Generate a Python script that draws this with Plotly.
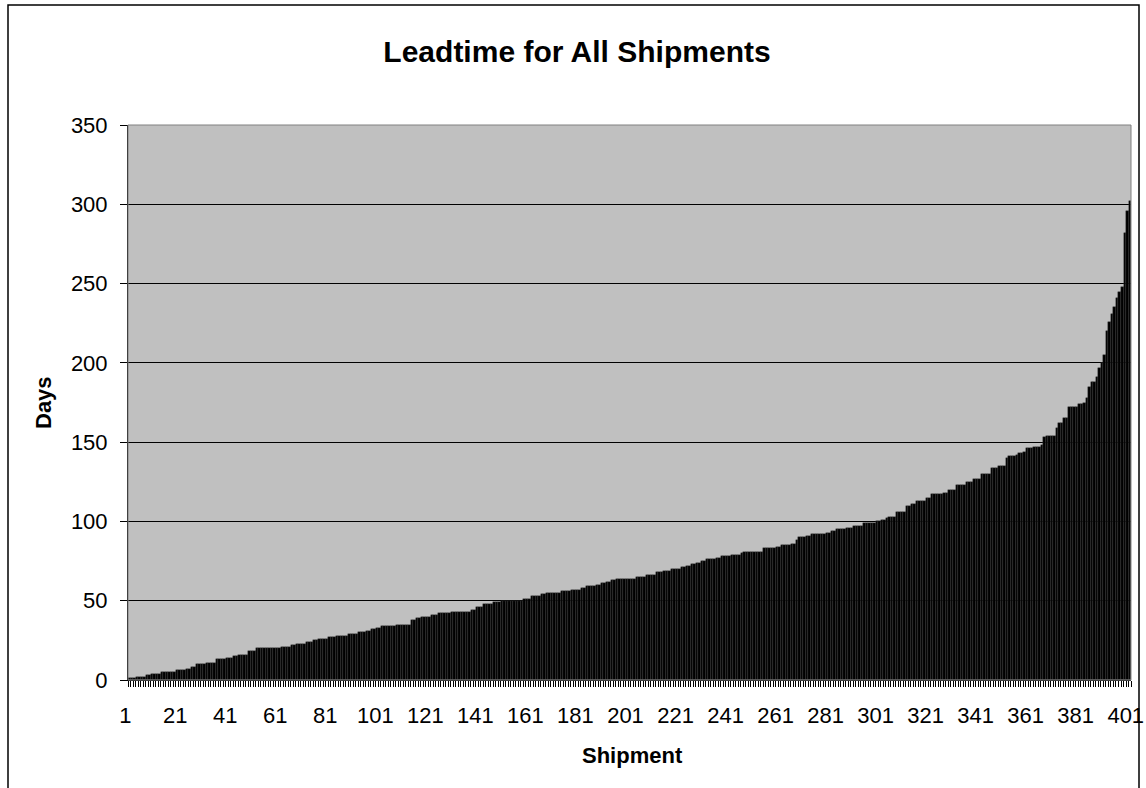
import plotly.graph_objects as go

shipments = list(range(1, 402))

leadtime_days = [
    1, 1, 1, 2, 2, 2, 2, 3, 3, 4,
    4, 4, 4, 5, 5, 5, 5, 5, 5, 6,
    6, 6, 6, 7, 7, 8, 8, 10, 10, 10,
    10, 11, 11, 11, 11, 13, 13, 13, 13, 14,
    14, 14, 15, 15, 16, 16, 16, 16, 18, 18,
    18, 20, 20, 20, 20, 20, 20, 20, 20, 20,
    20, 21, 21, 21, 21, 22, 22, 23, 23, 23,
    23, 24, 24, 24, 25, 25, 26, 26, 26, 26,
    27, 27, 27, 28, 28, 28, 28, 28, 29, 29,
    29, 29, 30, 30, 30, 31, 31, 32, 32, 33,
    33, 34, 34, 34, 34, 34, 34, 35, 35, 35,
    35, 35, 35, 38, 38, 39, 39, 40, 40, 40,
    40, 41, 41, 41, 42, 42, 42, 42, 42, 43,
    43, 43, 43, 43, 43, 43, 43, 44, 44, 46,
    46, 46, 48, 48, 48, 48, 49, 49, 49, 50,
    50, 50, 50, 50, 50, 50, 50, 50, 51, 51,
    51, 53, 53, 53, 53, 54, 54, 55, 55, 55,
    55, 55, 55, 56, 56, 56, 56, 57, 57, 57,
    57, 58, 58, 59, 59, 59, 59, 60, 60, 61,
    61, 62, 62, 63, 63, 64, 64, 64, 64, 64,
    64, 64, 64, 65, 65, 65, 65, 66, 66, 66,
    66, 68, 68, 68, 69, 69, 69, 70, 70, 70,
    70, 71, 71, 72, 72, 73, 73, 74, 74, 75,
    75, 76, 76, 76, 76, 77, 77, 78, 78, 78,
    78, 79, 79, 79, 79, 80, 81, 81, 81, 81,
    81, 81, 81, 81, 83, 83, 83, 83, 83, 84,
    84, 85, 85, 85, 85, 86, 86, 88, 90, 90,
    90, 91, 91, 92, 92, 92, 92, 92, 92, 93,
    93, 94, 94, 95, 95, 95, 95, 96, 96, 96,
    97, 97, 97, 97, 99, 99, 99, 99, 99, 100,
    100, 101, 101, 102, 103, 103, 103, 106, 106, 106,
    106, 110, 110, 111, 111, 113, 113, 113, 113, 115,
    115, 117, 117, 117, 117, 117, 118, 118, 120, 120,
    120, 123, 123, 123, 123, 125, 125, 125, 127, 127,
    127, 130, 130, 130, 130, 134, 134, 134, 135, 135,
    135, 140, 141, 141, 141, 142, 143, 143, 144, 146,
    146, 146, 147, 147, 147, 148, 153, 154, 154, 154,
    154, 159, 162, 162, 165, 165, 172, 172, 172, 172,
    174, 174, 175, 178, 185, 188, 188, 191, 197, 200,
    205, 220, 226, 231, 235, 241, 245, 248, 282, 296,
    302,
]

x_tick_values = list(range(1, 402, 20))
x_tick_labels = [str(v) for v in x_tick_values]
y_tick_values = [0, 50, 100, 150, 200, 250, 300, 350]

FONT = "Liberation Sans, Arial, sans-serif"

fig = go.Figure(
    go.Bar(
        x=shipments,
        y=leadtime_days,
        marker=dict(color="#000000", line=dict(color="#3a3a3a", width=0.4)),
        hoverinfo="x+y",
    )
)

W, H = 1146, 788
ml, mr, mt, mb = 128, 15, 125, 108
pw, ph = W - ml - mr, H - mt - mb


def px_to_paper_x(px):
    return (px - ml) / pw


def px_to_paper_y(py):
    return (H - mb - py) / ph


fig.update_layout(
    width=W,
    height=H,
    margin=dict(l=ml, r=mr, t=mt, b=mb, pad=0, autoexpand=False),
    paper_bgcolor="#ffffff",
    plot_bgcolor="#c0c0c0",
    bargap=0,
    showlegend=False,
    font=dict(family=FONT, color="#000000", size=22),
    title=dict(
        text="<b>Leadtime for All Shipments</b>",
        x=577 / W,
        xanchor="center",
        y=1 - 51 / H,
        yanchor="middle",
        yref="container",
        font=dict(family=FONT, size=30, color="#000000"),
    ),
    xaxis=dict(
        range=[0.5, 401.5],
        automargin=False,
        tickmode="array",
        tickvals=x_tick_values,
        ticktext=x_tick_labels,
        ticks="outside",
        ticklen=6,
        tickcolor="rgba(0,0,0,0)",
        ticklabelstandoff=10,
        ticklabelshift=-4,
        ticklabeloverflow="allow",
        tickfont=dict(family=FONT, size=22, color="#000000"),
        showgrid=False,
        zeroline=False,
        showline=True,
        linecolor="#000000",
        linewidth=1,
        minor=dict(
            tickmode="linear",
            tick0=0.5,
            dtick=1,
            ticks="outside",
            ticklen=6,
            tickcolor="#000000",
            tickwidth=1,
            showgrid=False,
        ),
        fixedrange=True,
    ),
    yaxis=dict(
        range=[0, 350],
        automargin=False,
        tickmode="array",
        tickvals=y_tick_values,
        ticks="outside",
        ticklen=7,
        tickcolor="#000000",
        ticklabelstandoff=8,
        tickfont=dict(family=FONT, size=22, color="#000000"),
        showgrid=True,
        gridcolor="#000000",
        gridwidth=1,
        zeroline=False,
        showline=True,
        linecolor="#000000",
        linewidth=1,
        fixedrange=True,
    ),
    shapes=[
        dict(
            type="rect",
            xref="paper",
            yref="paper",
            x0=0,
            x1=1,
            y0=0,
            y1=1,
            line=dict(color="#808080", width=1),
            fillcolor="rgba(0,0,0,0)",
            layer="above",
        ),
        dict(
            type="rect",
            xref="paper",
            yref="paper",
            x0=px_to_paper_x(8),
            x1=px_to_paper_x(1139),
            y0=px_to_paper_y(805),
            y1=px_to_paper_y(5),
            line=dict(color="#000000", width=1.5),
            fillcolor="rgba(0,0,0,0)",
            layer="above",
        ),
    ],
    annotations=[
        dict(
            text="<b>Shipment</b>",
            xref="paper",
            yref="paper",
            x=px_to_paper_x(632),
            y=px_to_paper_y(755),
            xanchor="center",
            yanchor="middle",
            showarrow=False,
            font=dict(family=FONT, size=22, color="#000000"),
        ),
        dict(
            text="<b>Days</b>",
            xref="paper",
            yref="paper",
            x=px_to_paper_x(43),
            y=px_to_paper_y(403),
            xanchor="center",
            yanchor="middle",
            textangle=-90,
            showarrow=False,
            font=dict(family=FONT, size=22, color="#000000"),
        ),
    ],
)

fig.write_html("out.html")
